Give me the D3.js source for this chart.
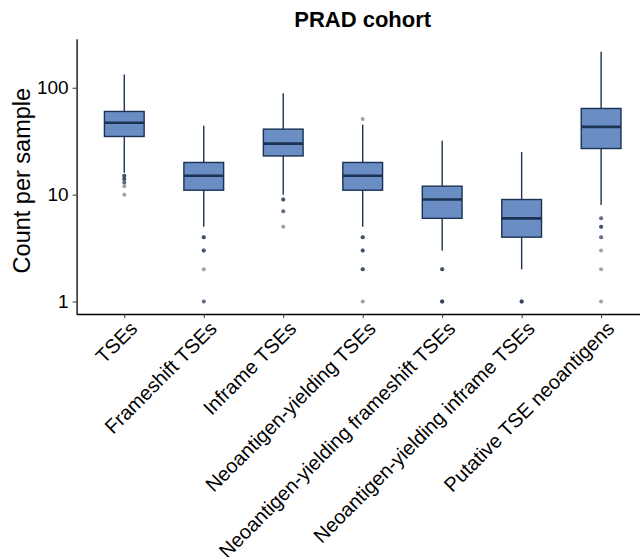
<!DOCTYPE html>
<html>
<head>
<meta charset="utf-8">
<script src="https://cdn.jsdelivr.net/npm/d3@7"></script>
<style>
  body { margin: 0; background: #fff; }
  svg text { font-family: "Liberation Sans", Arial, sans-serif; }
</style>
</head>
<body>
<svg id="chart" width="640" height="557"></svg>
<script>
// categories and box stats
const categories = ["TSEs", "Frameshift TSEs", "Inframe TSEs", "Neoantigen-yielding TSEs",
  "Neoantigen-yielding frameshift TSEs", "Neoantigen-yielding inframe TSEs", "Putative TSE neoantigens"];
const whiskerLow = [16, 5, 10, 5, 3, 2, 8];
const q1 = [35, 11, 23, 11, 6, 4, 27];
const median = [47, 15, 30, 15, 9, 6, 43];
const q3 = [60, 20, 41, 20, 12, 9, 64];
const whiskerHigh = [133, 44, 89, 45, 32, 25, 217];
// outliers (repeats = overlapping samples)
const outliers = [
  [15, 15, 15, 14, 14, 14, 13, 13, 12, 10],
  [4, 4, 4, 3, 3, 3, 2, 1, 1],
  [9, 9, 9, 7, 7, 5],
  [51, 4, 4, 4, 3, 3, 3, 2, 2, 2, 1],
  [2, 2, 2, 1, 1, 1, 1],
  [1, 1, 1, 1],
  [6, 6, 5, 5, 5, 4, 4, 3, 2, 1]
];
const yTicks = [1, 10, 100];

const svg = d3.select("#chart");
const pLeft = 76.6, pRight = 648.8, pTop = 39.3, pBottom = 314;

const x = d3.scalePoint().domain(categories).range([pLeft, pRight]).padding(0.6);

const allVals = whiskerHigh.concat(whiskerLow, outliers.flat());
const lo = Math.log10(d3.min(allVals)), hi = Math.log10(d3.max(allVals));
const pad = (hi - lo) * 0.05;
const y = d3.scaleLog().domain([10 ** (lo - pad), 10 ** (hi + pad)]).range([pBottom, pTop]);

const boxW = x.step() * 0.5;
const stroke = "#1c3253", fill = "#6a8dc4";

const data = categories.map((c, i) => ({
  c, lo: whiskerLow[i], q1: q1[i], med: median[i], q3: q3[i], hi: whiskerHigh[i], out: outliers[i]
}));

const g = svg.append("g");
const box = g.selectAll(".box").data(data).enter().append("g").attr("class", "box");

box.append("line")
  .attr("x1", d => x(d.c)).attr("x2", d => x(d.c))
  .attr("y1", d => y(d.hi)).attr("y2", d => y(d.q3))
  .attr("stroke", stroke).attr("stroke-width", 1.4);
box.append("line")
  .attr("x1", d => x(d.c)).attr("x2", d => x(d.c))
  .attr("y1", d => y(d.q1)).attr("y2", d => y(d.lo))
  .attr("stroke", stroke).attr("stroke-width", 1.4);
box.append("rect")
  .attr("x", d => x(d.c) - boxW / 2).attr("width", boxW)
  .attr("y", d => y(d.q3)).attr("height", d => y(d.q1) - y(d.q3))
  .attr("fill", fill).attr("stroke", stroke).attr("stroke-width", 1.4);
box.append("line")
  .attr("x1", d => x(d.c) - boxW / 2).attr("x2", d => x(d.c) + boxW / 2)
  .attr("y1", d => y(d.med)).attr("y2", d => y(d.med))
  .attr("stroke", stroke).attr("stroke-width", 2.6);

box.selectAll(".out").data(d => d.out.map(v => ({ c: d.c, v }))).enter().append("circle")
  .attr("cx", d => x(d.c)).attr("cy", d => y(d.v)).attr("r", 2)
  .attr("fill", stroke).attr("fill-opacity", 0.45);

// axes
const xAxis = svg.append("g").attr("transform", `translate(0,${pBottom})`)
  .call(d3.axisBottom(x).tickSize(4).tickSizeOuter(0));
xAxis.select(".domain").attr("d", `M${pLeft},0.5H${pRight}`).attr("stroke", "#000").attr("stroke-width", 1.3);
xAxis.selectAll(".tick line").attr("stroke", "#333");
xAxis.selectAll("text")
  .attr("font-size", 20).attr("fill", "#000")
  .attr("text-anchor", "end")
  .attr("transform", "translate(1,3) rotate(-45)")
  .attr("dy", "0.71em").attr("y", 4).attr("x", 0);

const yAxis = svg.append("g").attr("transform", `translate(${pLeft},0)`)
  .call(d3.axisLeft(y).tickValues(yTicks).tickFormat(d3.format("d")).tickSize(4).tickSizeOuter(0));
yAxis.select(".domain").attr("d", `M0.5,${pTop}V${pBottom}`).attr("stroke", "#000").attr("stroke-width", 1.3);
yAxis.selectAll(".tick line").attr("stroke", "#333");
yAxis.selectAll("text").attr("font-size", 19).attr("fill", "#000").attr("x", -8);

svg.append("text")
  .attr("x", (pLeft + pRight) / 2).attr("y", 27)
  .attr("text-anchor", "middle").attr("font-size", 22).attr("font-weight", "bold")
  .text("PRAD cohort");

svg.append("text")
  .attr("transform", `translate(30,${(pTop + pBottom) / 2 + 4}) rotate(-90)`)
  .attr("text-anchor", "middle").attr("font-size", 23.5)
  .text("Count per sample");
</script>
</body>
</html>
